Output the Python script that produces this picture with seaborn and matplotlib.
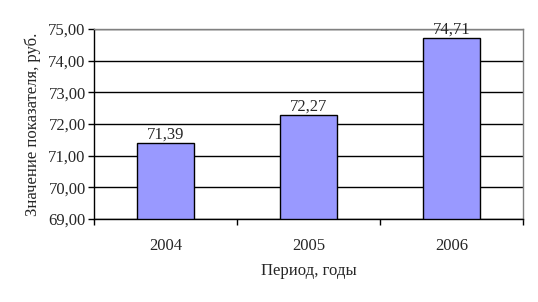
import matplotlib
matplotlib.use("Agg")
import matplotlib.pyplot as plt
import seaborn as sns
import pandas as pd
from matplotlib.ticker import FuncFormatter, FixedLocator

years = ["2004", "2005", "2006"]
values = [71.39, 72.27, 74.71]
y_ticks = [69, 70, 71, 72, 73, 74, 75]

sns.set_style("white")
plt.rcParams['font.family'] = ['Liberation Serif', 'DejaVu Serif']

df = pd.DataFrame({"year": years, "value": values})

fig = plt.figure(figsize=(5.38, 3.02), dpi=100)
ax = fig.add_axes([94/538, 1-219/302, (523-94)/538, (219-29)/302])

sns.barplot(data=df, x="year", y="value", ax=ax, color="#9999FF",
            edgecolor="black", linewidth=1.0, width=0.4, saturation=1)

ax.set_ylim(69, 75)
ax.set_yticks(y_ticks)
ax.yaxis.set_major_formatter(FuncFormatter(lambda v, p: f"{v:.2f}".replace(".", ",")))
ax.yaxis.grid(True, color="black", linewidth=1.0)
ax.set_axisbelow(True)
ax.set_xlim(-0.5, 2.5)

for s in ["top", "right"]:
    ax.spines[s].set_visible(True)
    ax.spines[s].set_color("#808080")
    ax.spines[s].set_linewidth(1.0)
for s in ["left", "bottom"]:
    ax.spines[s].set_color("black")
    ax.spines[s].set_linewidth(1.0)

fs = 12
ax.tick_params(axis="y", which="major", left=True, length=4, width=1, color="black",
               labelsize=fs, pad=2)
ax.tick_params(axis="x", which="major", bottom=False, labelsize=fs, pad=10)
ax.xaxis.set_minor_locator(FixedLocator([0.5, 1.5, 2.5, -0.5]))
ax.tick_params(axis="x", which="minor", bottom=True, length=4, width=1, color="black")

for i, v in enumerate(values):
    ax.text(i, v + 0.03, f"{v:.2f}".replace(".", ","), ha="center", va="bottom", fontsize=fs)

ax.set_xlabel("Период, годы", fontsize=fs, labelpad=7)
ax.set_ylabel("Значение показателя, руб.", fontsize=fs, labelpad=5)

fig.savefig("out.png", dpi=100)
